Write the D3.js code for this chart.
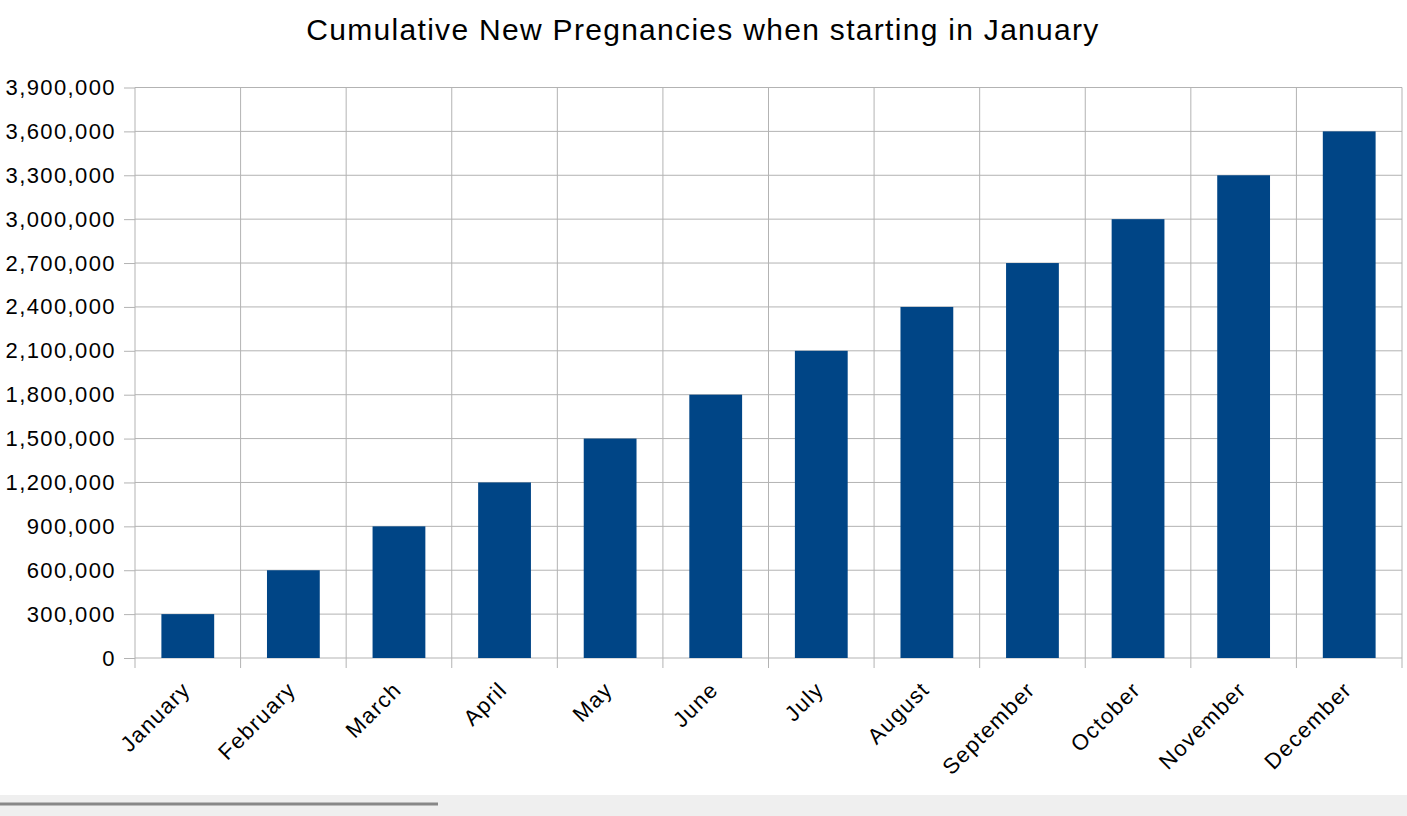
<!DOCTYPE html>
<html>
<head>
<meta charset="utf-8">
<script src="https://cdn.jsdelivr.net/npm/d3@7"></script>
<style>
  body { margin: 0; background: #fff; overflow: hidden; }
  svg { display: block; font-family: "Liberation Sans", Arial, sans-serif; }
</style>
</head>
<body>
<div id="chart"></div>
<script>
// data
const months = ["January", "February", "March", "April", "May", "June",
  "July", "August", "September", "October", "November", "December"];
const pregnancies = [300000, 600000, 900000, 1200000, 1500000, 1800000,
  2100000, 2400000, 2700000, 3000000, 3300000, 3600000];
const yTicks = [0, 300000, 600000, 900000, 1200000, 1500000, 1800000,
  2100000, 2400000, 2700000, 3000000, 3300000, 3600000, 3900000];
const chartTitle = "Cumulative New Pregnancies when starting in January";

const W = 1407, H = 816;
const margin = { top: 87.5, right: 5, bottom: 158, left: 135 };
const width = W - margin.left - margin.right,
  height = H - margin.top - margin.bottom;

const root = d3.select("#chart").append("svg")
  .attr("width", W)
  .attr("height", H);

// title
root.append("text")
  .attr("x", 703)
  .attr("y", 40)
  .attr("text-anchor", "middle")
  .style("font-size", "30px")
  .style("letter-spacing", "1.3px")
  .style("fill", "#000")
  .text(chartTitle);

const svg = root.append("g")
  .attr("transform", `translate(${margin.left},${margin.top})`);

const x = d3.scaleBand()
  .domain(months)
  .range([0, width])
  .padding(0);

const y = d3.scaleLinear()
  .domain([0, 3900000])
  .range([height, 0]);

const gridColor = "#b3b3b3";

// horizontal grid + y labels
const yAxis = svg.append("g")
  .call(d3.axisLeft(y)
    .tickValues(yTicks)
    .tickSize(11)
    .tickPadding(8)
    .tickFormat(d3.format(",")));
yAxis.select(".domain").remove();
yAxis.selectAll("line").attr("stroke", gridColor);
yAxis.selectAll("text")
  .style("font-size", "22px")
  .style("letter-spacing", "1.4px")
  .style("fill", "#000");

svg.append("g")
  .selectAll("line")
  .data(yTicks)
  .join("line")
    .attr("x1", 0)
    .attr("x2", width)
    .attr("y1", d => y(d))
    .attr("y2", d => y(d))
    .attr("stroke", gridColor);

// vertical grid at category boundaries
const bounds = months.map(m => x(m)).concat([width]);
svg.append("g")
  .selectAll("line")
  .data(bounds)
  .join("line")
    .attr("x1", d => d)
    .attr("x2", d => d)
    .attr("y1", 0)
    .attr("y2", height + 10)
    .attr("stroke", gridColor);

// bars
const barW = x.bandwidth() * 0.5;
svg.append("g")
  .selectAll("rect")
  .data(pregnancies)
  .join("rect")
    .attr("x", (d, i) => x(months[i]) + (x.bandwidth() - barW) / 2)
    .attr("y", d => y(d))
    .attr("width", barW)
    .attr("height", d => height - y(d))
    .attr("fill", "#004586");

// x labels, rotated
svg.append("g")
  .selectAll("text")
  .data(months)
  .join("text")
    .attr("transform", d => `translate(${x(d) + x.bandwidth() / 2 + 4},${height + 33}) rotate(-45)`)
    .attr("text-anchor", "end")
    .style("font-size", "22px")
    .style("letter-spacing", "1.4px")
    .style("fill", "#000")
    .text(d => d);

// bottom strip like the screenshot
root.append("rect")
  .attr("x", 0).attr("y", 795)
  .attr("width", W).attr("height", H - 795)
  .attr("fill", "#efefef");
root.append("rect")
  .attr("x", 0).attr("y", 802.5)
  .attr("width", 438).attr("height", 3)
  .attr("fill", "#888");
</script>
</body>
</html>
